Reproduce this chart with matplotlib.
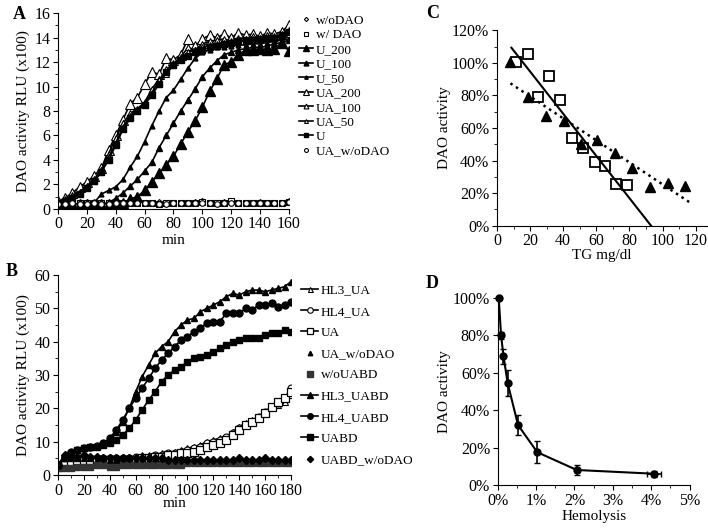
import numpy as np
import matplotlib
matplotlib.use("Agg")
import matplotlib.pyplot as plt
from matplotlib.ticker import MultipleLocator, PercentFormatter

plt.rcParams["font.family"] = ["Liberation Serif", "DejaVu Serif"]
plt.rcParams["font.size"] = 11

# ---------------- Panel A data (every 5 min, 0-160) ----------------
t_a = np.arange(0, 161, 5)
a_wo_dao = [0.5, 0.5, 0.45, 0.5, 0.45, 0.5, 0.5, 0.5, 0.55, 0.5, 0.55, 0.5, 0.5, 0.5, 0.55, 0.45, 0.5,
            0.5, 0.5, 0.55, 0.6, 0.5, 0.5, 0.55, 0.5, 0.5, 0.5, 0.5, 0.55, 0.5, 0.5, 0.5, 0.6]
a_w_dao = [0.45, 0.45, 0.5, 0.45, 0.5, 0.45, 0.5, 0.45, 0.5, 0.5, 0.5, 0.45, 0.5, 0.45, 0.4, 0.45, 0.45,
           0.5, 0.5, 0.5, 0.55, 0.5, 0.45, 0.5, 0.65, 0.5, 0.45, 0.5, 0.5, 0.5, 0.45, 0.5, 0.55]
a_u200 = [0.4, 0.4, 0.4, 0.4, 0.4, 0.4, 0.4, 0.4, 0.4, 0.45, 0.8, 1.0, 1.5, 2.2, 2.9, 3.6, 4.3, 5.3,
          6.3, 7.2, 8.3, 9.6, 10.6, 11.8, 12.0, 12.6, 13.0, 13.0, 13.1, 13.0, 13.1, 13.6, 12.9]
a_u100 = [0.4, 0.4, 0.4, 0.4, 0.4, 0.4, 0.4, 0.5, 0.85, 1.3, 1.85, 2.4, 3.1, 3.8, 5.0, 6.0, 7.0, 8.0,
          8.9, 9.8, 10.8, 11.5, 12.1, 12.6, 12.8, 13.0, 13.1, 13.2, 13.2, 13.3, 13.5, 13.6, 13.8]
a_u50 = [0.4, 0.4, 0.4, 0.4, 0.4, 0.5, 1.2, 1.5, 1.8, 2.4, 3.4, 4.3, 5.5, 6.8, 8.0, 9.1, 9.7, 10.6,
         11.5, 12.3, 12.8, 13.0, 13.2, 13.2, 13.3, 13.4, 13.4, 13.5, 13.5, 13.6, 13.7, 13.8, 13.9]
a_ua200 = [0.6, 0.9, 1.3, 1.8, 2.2, 2.7, 3.3, 4.8, 6.0, 7.3, 8.6, 9.1, 10.2, 11.2, 11.0, 12.3, 12.2,
           12.6, 13.9, 13.3, 13.9, 14.2, 14.0, 14.3, 14.0, 14.4, 14.2, 14.3, 14.1, 14.4, 14.3, 14.5, 15.0]
a_ua100 = [0.5, 0.8, 1.1, 1.4, 1.9, 2.4, 3.2, 4.5, 5.8, 7.0, 7.8, 8.2, 8.7, 9.8, 10.6, 11.0, 11.8,
           12.4, 13.2, 13.0, 13.5, 13.7, 13.8, 13.9, 13.7, 14.0, 13.9, 14.1, 14.0, 14.2, 14.1, 14.3, 14.6]
a_ua50 = [0.5, 0.7, 1.0, 1.3, 1.8, 2.3, 3.0, 4.2, 5.4, 6.7, 7.6, 8.1, 8.6, 9.5, 10.5, 11.4, 11.9,
          12.3, 12.8, 13.0, 13.2, 13.4, 13.5, 13.6, 13.6, 13.8, 13.7, 13.9, 13.9, 14.0, 14.0, 14.1, 14.3]
a_u = [0.5, 0.6, 0.9, 1.2, 1.7, 2.3, 3.0, 4.0, 5.2, 6.5, 7.4, 8.0, 8.5, 9.3, 10.2, 11.2, 11.8, 12.2,
       12.5, 12.8, 13.0, 13.2, 13.3, 13.5, 13.6, 13.7, 13.8, 13.8, 13.9, 14.0, 14.0, 14.2, 14.5]
a_ua_wo = [0.4, 0.4, 0.45, 0.4, 0.4, 0.45, 0.4, 0.4, 0.45, 0.45, 0.5, 0.45, 0.45, 0.5, 0.4, 0.4, 0.45,
           0.45, 0.5, 0.45, 0.5, 0.45, 0.4, 0.45, 0.45, 0.45, 0.5, 0.45, 0.45, 0.5, 0.45, 0.45, 0.55]

# ---------------- Panel B data (every 5 min, 0-180) ----------------
t_b = np.arange(0, 181, 5)
b_hl3_ua = [3, 5.5, 5, 5, 5, 5, 5, 5, 5, 5, 5.5, 5.5, 5.5, 6, 6, 6, 6.5, 6.5, 7, 7.5, 8, 8.5, 9, 10,
            10.5, 11, 11.5, 13, 14.5, 15.5, 16.5, 17.5, 19, 20.5, 21, 22, 24]
b_hl4_ua = [3, 5, 4.5, 4.5, 4.5, 5, 5, 5, 5, 5, 5, 5, 5.5, 5.5, 5.5, 6, 6, 6.5, 6.5, 7, 7.5, 8, 8.5,
            9.5, 10, 10.5, 11.5, 12.5, 14, 15, 16, 17.5, 19, 20.5, 21.5, 23, 26]
b_ua = [2.5, 3, 3.5, 4, 4.5, 4.5, 4.5, 4.5, 4.5, 4.5, 4.5, 4.5, 4.5, 5, 5, 5.5, 5.5, 6, 6, 6.5, 6.5,
        7, 7.5, 8.5, 9, 9.5, 10.5, 12, 13.5, 15, 16, 17, 18.5, 20.5, 22, 23, 25]
b_ua_wo = [3, 5, 5, 5, 5, 5, 4.5, 5, 4.5, 4.5, 5, 4.5, 4.5, 4.5, 4.5, 4.5, 4.5, 4.5, 4.5, 4.5, 4.5,
           4.5, 4.5, 4.5, 4.5, 4.5, 4.5, 4.5, 4.5, 4.5, 4.5, 4.5, 4.5, 4.5, 4.5, 4.5, 4.5]
b_wo_uabd = [2, 2, 2, 2.5, 2.5, 2.5, 3, 3, 2.5, 2.5, 3, 3, 3, 3, 3, 3, 3, 3, 3, 3, 3.5, 3.5, 3.5,
             3.5, 3.5, 3.5, 3.5, 3.5, 3.5, 3.5, 3.5, 3.5, 3.5, 3.5, 3.5, 3.5, 3.5]
b_hl3_uabd = [3, 6, 7, 7.5, 8, 8.5, 8.8, 9.5, 11, 13, 16, 20, 25, 29.5, 33, 36.5, 38.5, 40, 43, 45,
              46.5, 47, 49, 50, 51, 52, 53.5, 54.5, 54, 55, 55.5, 55.5, 55, 55.5, 56, 56.5, 58]
b_hl4_uabd = [3, 5.5, 7, 7.5, 8, 8.5, 8.8, 9.5, 11, 13.5, 16.5, 20, 23, 26, 29, 32, 34.5, 36.5, 38.5,
              40.5, 41.5, 43, 44, 45.5, 46, 46, 48.5, 48.5, 48.5, 50, 49.5, 51, 51, 51.5, 50.5, 51, 52]
b_uabd = [3, 5, 6.5, 7.5, 8, 8.5, 8.5, 9, 9.5, 10.5, 12, 14, 16.5, 19.5, 22.5, 25, 28, 30, 31.5, 32.5,
          34, 35, 35.5, 36, 37, 38, 39, 40, 40.5, 41, 41, 41, 42, 42.5, 42.5, 43.5, 43]
b_uabd_wo = [3, 6, 5.5, 5.5, 6, 5.5, 5.5, 5, 5, 5, 5, 5, 5, 5, 5, 5, 5, 4.5, 4.5, 4.5, 4.5, 4.5, 4.5,
             4.5, 4.5, 4.5, 4.5, 4.5, 5, 4.5, 4.5, 4.5, 5, 4.5, 4.5, 4.5, 4.5]

# ---------------- Panel C data ----------------
c_sq_x = [11.2, 18.5, 24.9, 31.6, 38.3, 45.2, 52.1, 59.0, 65.3, 72.0, 78.7]
c_sq_y = [100.6, 105.7, 79.2, 91.8, 77.1, 53.7, 47.6, 39.0, 36.9, 25.9, 24.9]
c_tri_x = [8.1, 18.9, 29.4, 40.2, 50.5, 60.5, 71.4, 81.8, 92.5, 103.4, 113.8]
c_tri_y = [100.6, 78.8, 67.3, 64.5, 50.0, 52.7, 44.5, 35.7, 24.1, 26.5, 24.5]

# ---------------- Panel D data ----------------
d_x = [0.026, 0.087, 0.15, 0.26, 0.53, 1.03, 2.06, 4.07]
d_y = [100, 80, 68.9, 54.3, 32, 17.5, 8, 6]
d_yerr = [0, 2, 4, 7, 5.3, 6, 2.7, 1.5]
d_xerr = [0, 0.02, 0.02, 0.02, 0.03, 0.03, 0.05, 0.18]

fig = plt.figure(figsize=(7.08, 5.30), dpi=100)

# ---------------- A ----------------
axA = fig.add_axes([0.082, 0.606, 0.326, 0.369])
axA.plot(t_a, a_wo_dao, ls="none", marker="D", ms=3, mfc="white", mec="black", mew=0.8, label="w/oDAO")
axA.plot(t_a, a_w_dao, ls="none", marker="s", ms=4, mfc="white", mec="black", mew=0.8, label="w/ DAO")
axA.plot(t_a, a_u200, "k-", marker="^", ms=6.5, mfc="black", lw=1.2, label="U_200")
axA.plot(t_a, a_u100, "k-", marker="^", ms=5, mfc="black", lw=1.2, label="U_100")
axA.plot(t_a, a_u50, "k-", marker="^", ms=3.5, mfc="black", lw=1.2, label="U_50")
axA.plot(t_a, a_ua200, "k-", marker="^", ms=6.5, mfc="white", mew=0.8, lw=1.2, label="UA_200")
axA.plot(t_a, a_ua100, "k-", marker="^", ms=5, mfc="white", mew=0.8, lw=1.2, label="UA_100")
axA.plot(t_a, a_ua50, "k-", marker="^", ms=4, mfc="white", mew=0.8, lw=1.2, label="UA_50")
axA.plot(t_a, a_u, "k-", marker="s", ms=4.5, mfc="black", lw=1.2, label="U")
axA.plot(t_a, a_ua_wo, ls="none", marker="o", ms=4, mfc="white", mec="black", mew=0.8, label="UA_w/oDAO")
axA.set_xlim(0, 160)
axA.set_ylim(0, 16)
axA.set_xticks(range(0, 161, 20))
axA.set_yticks(range(0, 17, 2))
axA.yaxis.set_minor_locator(MultipleLocator(1))
axA.set_xlabel("min", labelpad=1)
axA.set_ylabel("DAO activity RLU (x100)", labelpad=3)
axA.legend(loc="upper left", bbox_to_anchor=(1.02, 1.02), frameon=False, handlelength=1.1,
           handletextpad=0.2, labelspacing=0.17, borderaxespad=0, fontsize=9.5, markerscale=0.7)

# ---------------- B ----------------
axB = fig.add_axes([0.082, 0.104, 0.329, 0.377])
axB.plot(t_b, b_hl3_ua, "k-", marker="^", ms=4.5, mfc="white", mew=0.8, lw=1.2, label="HL3_UA")
axB.plot(t_b, b_hl4_ua, "k-", marker="o", ms=5, mfc="white", mew=0.8, lw=1.2, label="HL4_UA")
axB.plot(t_b, b_ua, "k-", marker="s", ms=5.5, mfc="white", mew=0.9, lw=1.2, label="UA")
axB.plot(t_b, b_ua_wo, ls="none", marker="^", ms=4, color="black", label="UA_w/oDAO")
axB.plot(t_b, b_wo_uabd, ls="none", marker="s", ms=5, color="#333333", label="w/oUABD")
axB.plot(t_b, b_hl3_uabd, "k-", marker="^", ms=5, lw=1.2, label="HL3_UABD")
axB.plot(t_b, b_hl4_uabd, "k-", marker="o", ms=5, lw=1.2, label="HL4_UABD")
axB.plot(t_b, b_uabd, "k-", marker="s", ms=5, lw=1.2, label="UABD")
axB.plot(t_b, b_uabd_wo, ls="none", marker="D", ms=4, color="black", label="UABD_w/oDAO")
axB.set_xlim(0, 180)
axB.set_ylim(0, 60)
axB.set_xticks(range(0, 181, 20))
axB.set_yticks(range(0, 61, 10))
axB.xaxis.set_minor_locator(MultipleLocator(10))
axB.yaxis.set_minor_locator(MultipleLocator(5))
axB.set_xlabel("min", labelpad=-1)
axB.set_ylabel("DAO activity RLU (x100)", labelpad=3)
axB.legend(loc="upper left", bbox_to_anchor=(1.02, 0.98), frameon=False, handlelength=1.3,
           handletextpad=0.2, labelspacing=0.68, borderaxespad=0, fontsize=9.5, markerscale=0.8)

# ---------------- C ----------------
axC = fig.add_axes([0.702, 0.574, 0.297, 0.369])
axC.plot(c_sq_x, c_sq_y, ls="none", marker="s", ms=7, mfc="white", mec="black", mew=1.3)
axC.plot(c_tri_x, c_tri_y, ls="none", marker="^", ms=6.5, color="black")
k_sq, b_sq = np.polyfit(c_sq_x, c_sq_y, 1)
xs = np.array([8.7, -b_sq / k_sq])
axC.plot(xs, k_sq * xs + b_sq, "k-", lw=1.5)
k_tr, b_tr = np.polyfit(c_tri_x, c_tri_y, 1)
xt = np.array([min(c_tri_x), max(c_tri_x) + 4])
axC.plot(xt, k_tr * xt + b_tr, "k:", lw=1.8)
axC.set_xlim(0, 127)
axC.set_ylim(0, 120)
axC.set_xticks(range(0, 121, 20))
axC.set_yticks(range(0, 121, 20))
axC.xaxis.set_minor_locator(MultipleLocator(10))
axC.yaxis.set_minor_locator(MultipleLocator(10))
axC.yaxis.set_major_formatter(PercentFormatter(100, decimals=0))
axC.set_xlabel("TG mg/dl", labelpad=0)
axC.set_ylabel("DAO activity", labelpad=1)

# ---------------- D ----------------
axD = fig.add_axes([0.703, 0.085, 0.271, 0.353])
axD.errorbar(d_x, d_y, yerr=d_yerr, xerr=d_xerr, color="black", marker="o", ms=5,
             lw=1.5, elinewidth=1.2, capsize=2, clip_on=False)
axD.set_xlim(0, 5)
axD.set_ylim(0, 100)
axD.set_xticks(range(0, 6))
axD.set_yticks(range(0, 101, 20))
axD.xaxis.set_minor_locator(MultipleLocator(0.5))
axD.xaxis.set_major_formatter(PercentFormatter(100, decimals=0))
axD.yaxis.set_major_formatter(PercentFormatter(100, decimals=0))
axD.set_xlabel("Hemolysis", labelpad=1)
axD.set_ylabel("DAO activity", labelpad=1)

for ax in (axA, axB, axC, axD):
    ax.spines["top"].set_visible(False)
    ax.spines["right"].set_visible(False)
    ax.tick_params(which="both", direction="out", labelsize=11.5, pad=2)
    ax.tick_params(which="major", length=3.5)
    ax.tick_params(which="minor", length=2.5)

fig.text(0.028, 0.972, "A", fontsize=13, fontweight="bold", va="center", ha="center")
fig.text(0.016, 0.488, "B", fontsize=13, fontweight="bold", va="center", ha="center")
fig.text(0.611, 0.975, "C", fontsize=13, fontweight="bold", va="center", ha="center")
fig.text(0.611, 0.465, "D", fontsize=13, fontweight="bold", va="center", ha="center")

fig.savefig("out.png", dpi=100)
